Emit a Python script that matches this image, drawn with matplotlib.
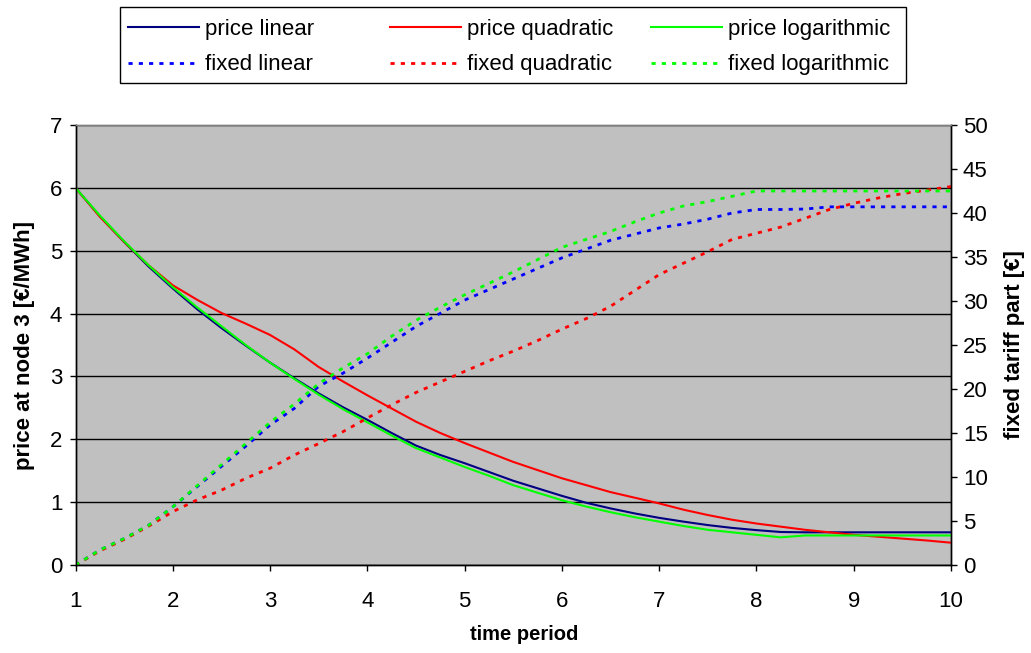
import matplotlib
matplotlib.use("Agg")
import matplotlib.pyplot as plt
from matplotlib.patches import Rectangle

plt.rcParams['font.family'] = ['Liberation Sans', 'DejaVu Sans']

# time periods (quarter steps)
time = [1, 1.25, 1.5, 1.75, 2, 2.25, 2.5, 2.75, 3, 3.25, 3.5, 3.75, 4, 4.25, 4.5, 4.75,
        5, 5.25, 5.5, 5.75, 6, 6.25, 6.5, 6.75, 7, 7.25, 7.5, 7.75, 8, 8.25, 8.5, 8.75,
        9, 9.25, 9.5, 9.75, 10]

price_linear = [6.0, 5.55, 5.14, 4.75, 4.40, 4.07, 3.77, 3.49, 3.22, 2.97, 2.73, 2.51,
                2.31, 2.10, 1.90, 1.75, 1.62, 1.48, 1.34, 1.22, 1.10, 0.99, 0.90, 0.82,
                0.75, 0.69, 0.635, 0.59, 0.555, 0.525, 0.52, 0.52, 0.52, 0.52, 0.52, 0.52, 0.52]
price_quadratic = [6.0, 5.54, 5.14, 4.77, 4.45, 4.22, 4.01, 3.84, 3.66, 3.43, 3.15, 2.92,
                   2.70, 2.49, 2.28, 2.10, 1.94, 1.79, 1.64, 1.51, 1.38, 1.27, 1.16, 1.07,
                   0.98, 0.88, 0.795, 0.72, 0.66, 0.61, 0.56, 0.52, 0.48, 0.45, 0.42, 0.39, 0.355]
price_logarithmic = [6.0, 5.56, 5.15, 4.77, 4.42, 4.10, 3.80, 3.50, 3.22, 2.96, 2.71, 2.48,
                     2.27, 2.06, 1.86, 1.71, 1.56, 1.42, 1.27, 1.15, 1.03, 0.93, 0.84, 0.76,
                     0.69, 0.62, 0.56, 0.52, 0.48, 0.44, 0.47, 0.47, 0.47, 0.47, 0.47, 0.47, 0.47]

fixed_linear = [0, 1.7, 3.0, 4.5, 6.6, 8.9, 11.2, 13.5, 15.9, 17.8, 20.3, 21.8, 23.5, 25.3,
                27.1, 28.6, 30.1, 31.3, 32.5, 33.7, 34.9, 35.9, 36.9, 37.6, 38.3, 38.75, 39.3,
                40.0, 40.4, 40.4, 40.45, 40.7, 40.7, 40.7, 40.7, 40.7, 40.7]
fixed_quadratic = [0, 1.6, 2.9, 4.4, 6.06, 7.4, 8.5, 9.85, 11.0, 12.5, 13.8, 15.15, 16.7,
                   18.2, 19.6, 20.8, 22.0, 23.2, 24.3, 25.5, 26.8, 28.0, 29.4, 31.2, 33.0,
                   34.3, 35.6, 37.0, 37.7, 38.4, 39.4, 40.4, 41.1, 41.7, 42.2, 42.6, 43.0]
fixed_logarithmic = [0, 1.7, 3.0, 4.5, 6.6, 9.0, 11.4, 13.8, 16.2, 18.3, 20.6, 22.4, 24.0,
                     26.0, 27.8, 29.3, 30.7, 32.0, 33.3, 34.7, 36.1, 37.0, 37.9, 39.0, 40.0,
                     40.8, 41.3, 41.9, 42.5, 42.5, 42.5, 42.5, 42.5, 42.5, 42.5, 42.5, 42.5]

x_ticks = [1, 2, 3, 4, 5, 6, 7, 8, 9, 10]
left_ticks = [0, 1, 2, 3, 4, 5, 6, 7]
right_ticks = [0, 5, 10, 15, 20, 25, 30, 35, 40, 45, 50]

TICK_FS = 16
LEG_FS = 16
W, H = 1031, 653
fig = plt.figure(figsize=(W / 100, H / 100), dpi=100)
ax = fig.add_axes([75.5 / W, 1 - 565 / H, (951 - 75.5) / W, 440 / H])
ax.set_facecolor('#C0C0C0')
ax2 = ax.twinx()

dot = (0, (1.5, 2.2))
l1, = ax.plot(time, price_linear, color='#000080', lw=1.5, zorder=3)
l2, = ax.plot(time, price_quadratic, color='#FF0000', lw=1.5, zorder=3)
l3, = ax.plot(time, price_logarithmic, color='#00FF00', lw=1.5, zorder=3)
f1, = ax2.plot(time, fixed_linear, color='#0000FF', lw=2, linestyle=dot)
f2, = ax2.plot(time, fixed_quadratic, color='#FF0000', lw=2, linestyle=dot)
f3, = ax2.plot(time, fixed_logarithmic, color='#00FF00', lw=2, linestyle=dot)

ax.set_xlim(1, 10)
ax.set_ylim(0, 7)
ax2.set_ylim(0, 50)
ax.set_xticks(x_ticks)
ax.set_yticks(left_ticks)
ax2.set_yticks(right_ticks)
ax.yaxis.grid(True, color='black', lw=1)
ax.set_axisbelow(True)

for a in (ax, ax2):
    a.tick_params(labelsize=TICK_FS, direction='out', length=4.5, width=1, color='black', pad=5)
    for s in a.spines.values():
        s.set_color('black')
        s.set_linewidth(1)
ax.tick_params(axis='x', pad=14)
ax2.tick_params(axis='y', pad=4)
ax.spines['top'].set_color('#808080')
ax2.spines['top'].set_color('#808080')

ax.set_xlabel('time period', fontsize=14.5, fontweight='bold')
ax.xaxis.set_label_coords((524 - 75.5) / 875.5, -(625 - 565) / 440)
ax.set_ylabel('price at node 3 [€/MWh]', fontsize=16, fontweight='bold', labelpad=11)
ax2.set_ylabel('fixed tariff part [€]', fontsize=16, fontweight='bold', labelpad=12)

# legend: frame + three equally spaced columns
fig.patches.append(Rectangle((120 / W, 1 - 83 / H), (906 - 120) / W, 76 / H,
                             transform=fig.transFigure, facecolor='white',
                             edgecolor='black', lw=1, zorder=0))
cols = [([l1, f1], ['price linear', 'fixed linear'], 128),
        ([l2, f2], ['price quadratic', 'fixed quadratic'], 390),
        ([l3, f3], ['price logarithmic', 'fixed logarithmic'], 651)]
for hs, lbs, xpx in cols:
    lg = fig.legend(hs, lbs, loc='upper left', bbox_to_anchor=(xpx / W, 1 - 19 / H),
                    bbox_transform=fig.transFigure, fontsize=LEG_FS, frameon=False,
                    handlelength=3.2, handletextpad=0.27, borderaxespad=0., borderpad=0.,
                    labelspacing=0.65)

fig.savefig('out.png', dpi=100)
